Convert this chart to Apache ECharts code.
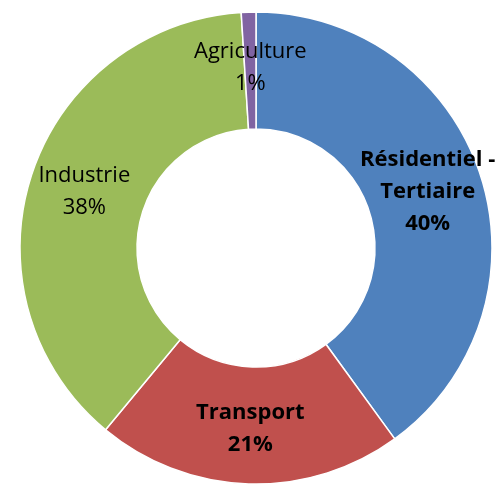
<!DOCTYPE html>
<html>
<head>
<meta charset="utf-8">
<script src="https://cdn.jsdelivr.net/npm/echarts@6/dist/echarts.min.js"></script>
<style>
html,body{margin:0;padding:0;background:#fff;}
#chart{width:495px;height:484px;}
</style>
</head>
<body>
<div id="chart"></div>
<script>
const categories = ["Résidentiel -\nTertiaire", "Transport", "Industrie", "Agriculture"];
const values = [40, 21, 38, 1];
const colors = ["#4F81BD", "#C0504D", "#9BBB59", "#8064A2"];
const boldLabels = [true, true, false, false];

const chart = echarts.init(document.getElementById('chart'), null, {renderer: 'canvas'});
const data = categories.map((name, i) => ({
  name: name,
  value: values[i],
  itemStyle: {color: colors[i]},
  label: {fontWeight: boldLabels[i] ? 'bold' : 'normal'}
}));
chart.setOption({
  animation: false,
  series: [{
    type: 'pie',
    center: [256, 248],
    radius: [119, 236],
    startAngle: 90,
    clockwise: true,
    percentPrecision: 0,
    itemStyle: {borderColor: '#fff', borderWidth: 1.5},
    label: {
      show: true,
      position: 'inside',
      formatter: '{b}\n{d}%',
      color: '#000',
      fontFamily: 'Open Sans',
      fontSize: 22,
      lineHeight: 32,
      textBorderWidth: 0,
      align: 'center'
    },
    labelLine: {show: false},
    emphasis: {disabled: true},
    data: data
  }]
});
</script>
</body>
</html>
